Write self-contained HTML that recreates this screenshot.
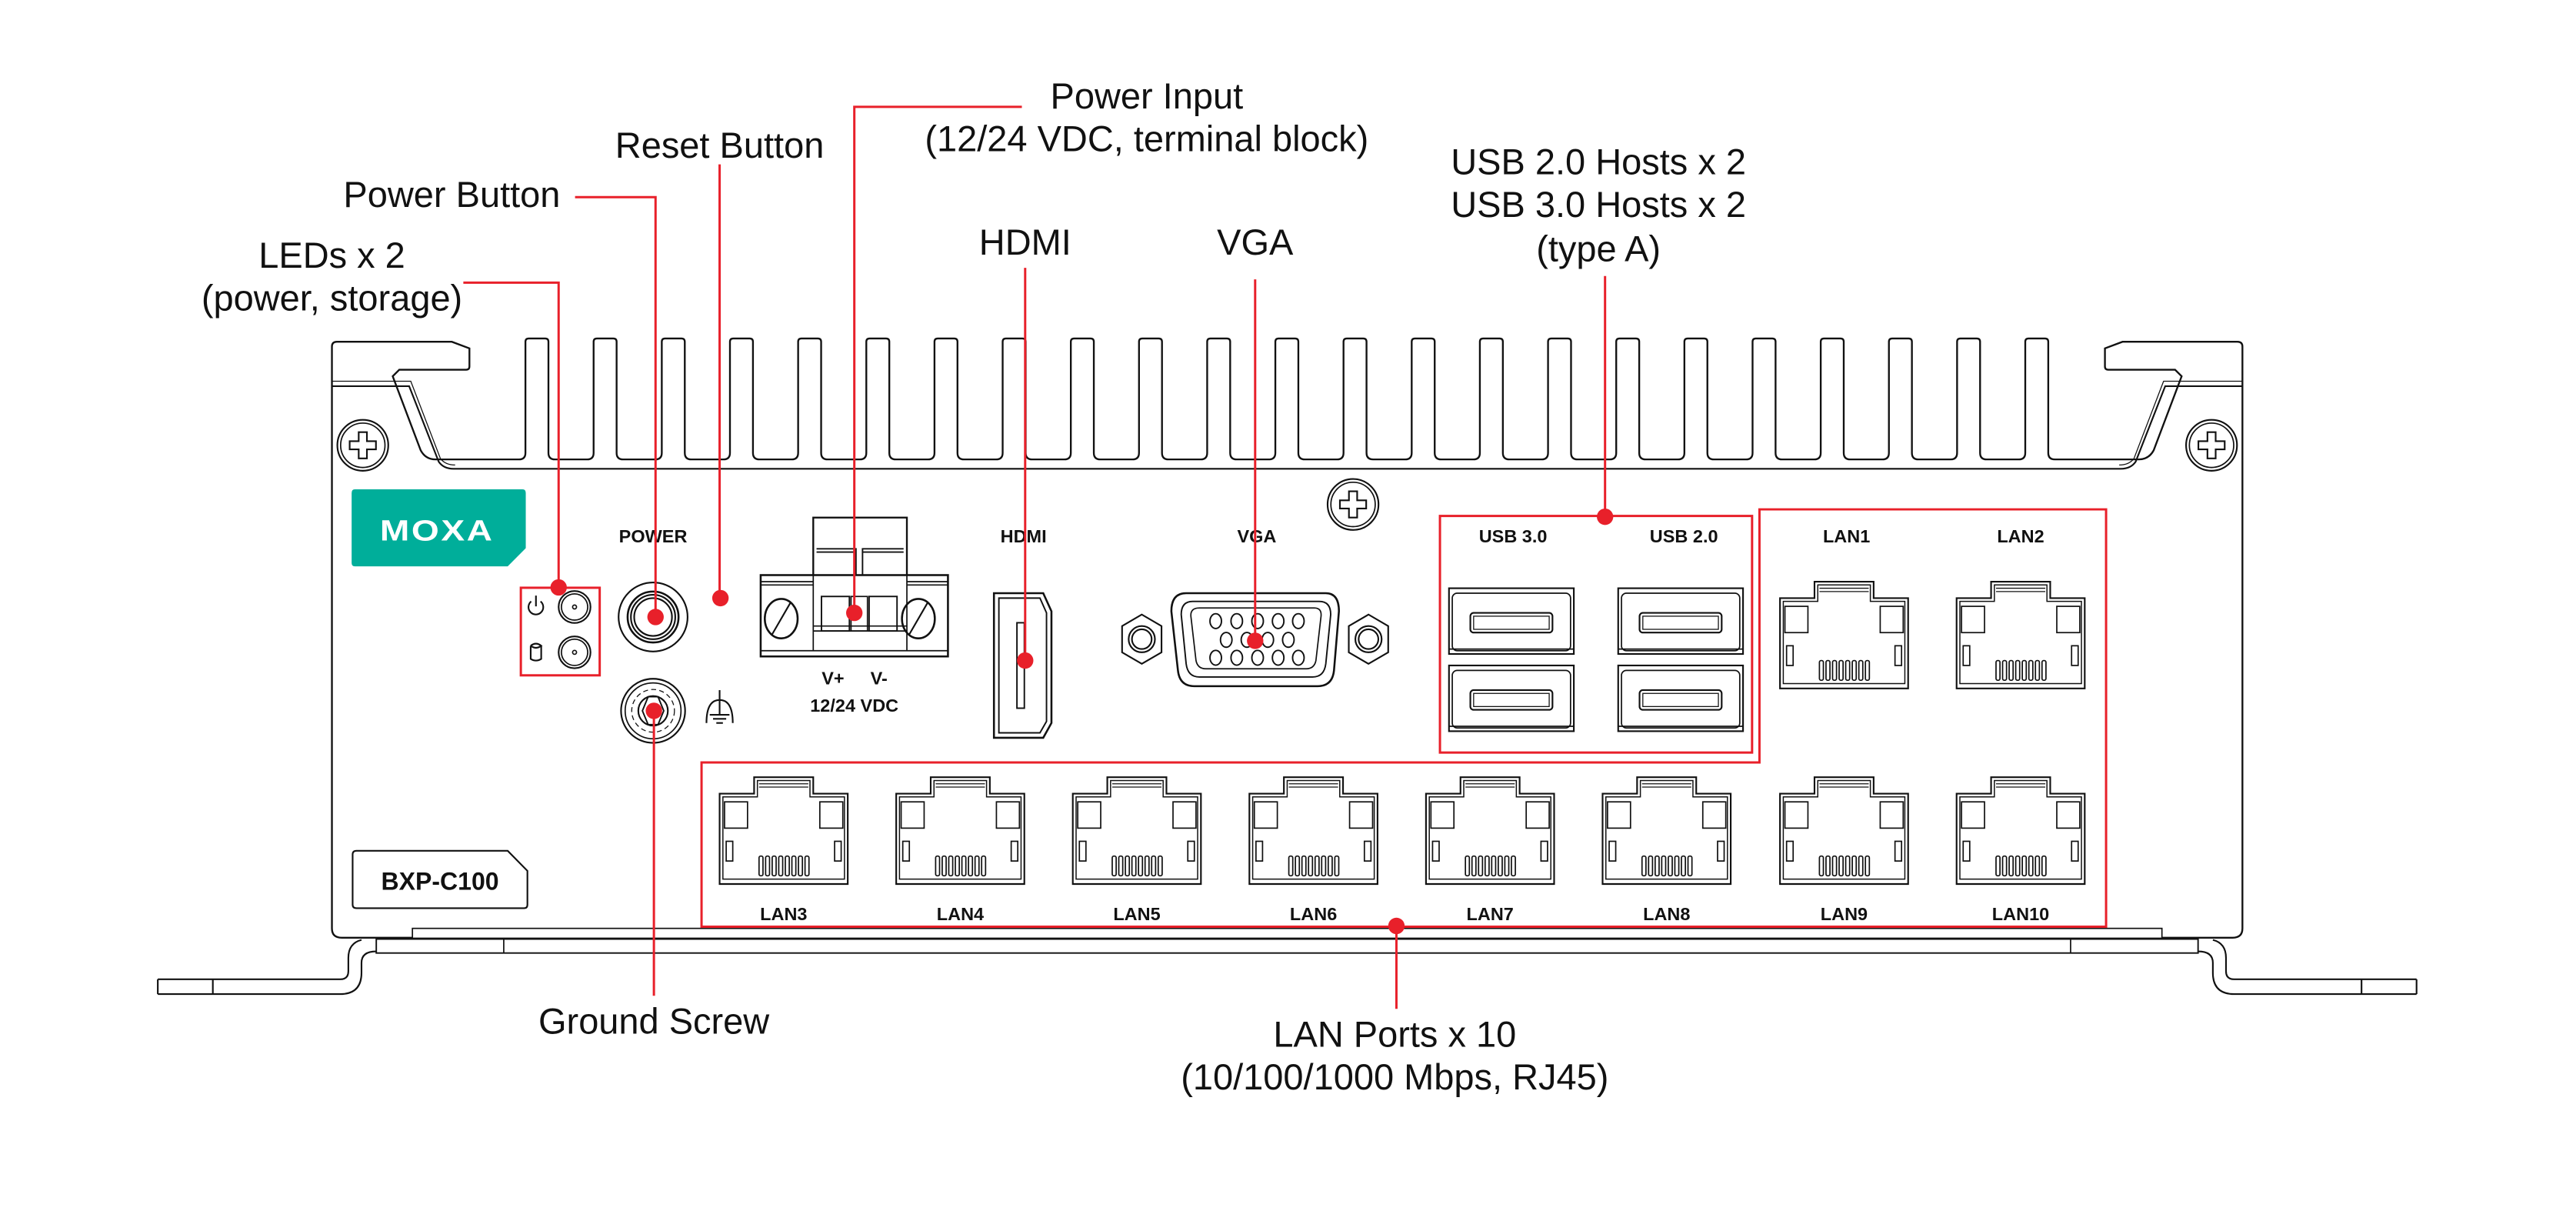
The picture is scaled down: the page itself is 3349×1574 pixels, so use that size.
<!DOCTYPE html>
<html><head><meta charset="utf-8"><style>
html,body{margin:0;padding:0;background:#fff;}
svg{display:block;}
text{font-family:"Liberation Sans",sans-serif;}
.c{font-size:22px;fill:#111;text-anchor:middle;}
.s{font-family:"Liberation Sans Narrow","Liberation Sans",sans-serif;font-weight:bold;font-size:11px;fill:#111;text-anchor:middle;}
</style></head><body>
<svg width="3349" height="1574" viewBox="0 0 1568 737" xmlns="http://www.w3.org/2000/svg">
<defs>
<g id="rj">
<path d="M0,10 H21 V0 H57 V10 H78 V65 H0 Z" fill="#fff" stroke="#111" stroke-width="1"/>
<path d="M2,12 H23 V2 H55 V12 H76 V62 H2 Z" fill="none" stroke="#111" stroke-width="0.7"/>
<path d="M24,4 H54 M24,6 H54" stroke="#111" stroke-width="0.6"/>
<rect x="3" y="15" width="14" height="16" fill="none" stroke="#111" stroke-width="0.8"/>
<rect x="61" y="15" width="14" height="16" fill="none" stroke="#111" stroke-width="0.8"/>
<rect x="4" y="39" width="4" height="12" fill="none" stroke="#111" stroke-width="0.8"/>
<rect x="70" y="39" width="4" height="12" fill="none" stroke="#111" stroke-width="0.8"/>
<g fill="none" stroke="#111" stroke-width="0.8">
<rect x="24" y="48" width="2.4" height="12" rx="1"/><rect x="28" y="48" width="2.4" height="12" rx="1"/>
<rect x="32" y="48" width="2.4" height="12" rx="1"/><rect x="36" y="48" width="2.4" height="12" rx="1"/>
<rect x="40" y="48" width="2.4" height="12" rx="1"/><rect x="44" y="48" width="2.4" height="12" rx="1"/>
<rect x="48" y="48" width="2.4" height="12" rx="1"/><rect x="52" y="48" width="2.4" height="12" rx="1"/>
</g>
</g>
<g id="usb">
<rect x="0" y="0" width="76" height="40" fill="#fff" stroke="#111" stroke-width="1"/>
<rect x="2" y="3" width="72" height="35" rx="3" fill="none" stroke="#111" stroke-width="0.8"/>
<rect x="13" y="15" width="50" height="12" rx="2" fill="none" stroke="#111" stroke-width="1"/>
<rect x="15" y="17" width="46" height="8" fill="none" stroke="#111" stroke-width="0.6"/>
<path d="M0,37 H76" stroke="#111" stroke-width="0.8"/>
</g>
<g id="scr">
<circle r="15.5" fill="#fff" stroke="#111" stroke-width="1"/>
<circle r="13.5" fill="none" stroke="#111" stroke-width="0.8"/>
<path d="M-2.5,-8 H2.5 V-2.5 H8 V2.5 H2.5 V8 H-2.5 V2.5 H-8 V-2.5 H-2.5 Z" fill="none" stroke="#111" stroke-width="1"/>
</g>
</defs>

<!-- chassis -->
<path d="M202,565 V211 Q202,208 205,208 H275 L285.7,212 V223 Q285.7,225 283.7,225 H243 L239,229 L256,274 Q259,279.6 265,279.6 H315.8
q4,0 4,-4 v-67.6 q0,-2 2,-2 h10 q2,0 2,2 v67.6 q0,4 4,4 h19.5
q4,0 4,-4 v-67.6 q0,-2 2,-2 h10 q2,0 2,2 v67.6 q0,4 4,4 h19.5
q4,0 4,-4 v-67.6 q0,-2 2,-2 h10 q2,0 2,2 v67.6 q0,4 4,4 h19.5
q4,0 4,-4 v-67.6 q0,-2 2,-2 h10 q2,0 2,2 v67.6 q0,4 4,4 h19.5
q4,0 4,-4 v-67.6 q0,-2 2,-2 h10 q2,0 2,2 v67.6 q0,4 4,4 h19.5
q4,0 4,-4 v-67.6 q0,-2 2,-2 h10 q2,0 2,2 v67.6 q0,4 4,4 h19.5
q4,0 4,-4 v-67.6 q0,-2 2,-2 h10 q2,0 2,2 v67.6 q0,4 4,4 h19.5
q4,0 4,-4 v-67.6 q0,-2 2,-2 h10 q2,0 2,2 v67.6 q0,4 4,4 h19.5
q4,0 4,-4 v-67.6 q0,-2 2,-2 h10 q2,0 2,2 v67.6 q0,4 4,4 h19.5
q4,0 4,-4 v-67.6 q0,-2 2,-2 h10 q2,0 2,2 v67.6 q0,4 4,4 h19.5
q4,0 4,-4 v-67.6 q0,-2 2,-2 h10 q2,0 2,2 v67.6 q0,4 4,4 h19.5
q4,0 4,-4 v-67.6 q0,-2 2,-2 h10 q2,0 2,2 v67.6 q0,4 4,4 h19.5
q4,0 4,-4 v-67.6 q0,-2 2,-2 h10 q2,0 2,2 v67.6 q0,4 4,4 h19.5
q4,0 4,-4 v-67.6 q0,-2 2,-2 h10 q2,0 2,2 v67.6 q0,4 4,4 h19.5
q4,0 4,-4 v-67.6 q0,-2 2,-2 h10 q2,0 2,2 v67.6 q0,4 4,4 h19.5
q4,0 4,-4 v-67.6 q0,-2 2,-2 h10 q2,0 2,2 v67.6 q0,4 4,4 h19.5
q4,0 4,-4 v-67.6 q0,-2 2,-2 h10 q2,0 2,2 v67.6 q0,4 4,4 h19.5
q4,0 4,-4 v-67.6 q0,-2 2,-2 h10 q2,0 2,2 v67.6 q0,4 4,4 h19.5
q4,0 4,-4 v-67.6 q0,-2 2,-2 h10 q2,0 2,2 v67.6 q0,4 4,4 h19.5
q4,0 4,-4 v-67.6 q0,-2 2,-2 h10 q2,0 2,2 v67.6 q0,4 4,4 h19.5
q4,0 4,-4 v-67.6 q0,-2 2,-2 h10 q2,0 2,2 v67.6 q0,4 4,4 h19.5
q4,0 4,-4 v-67.6 q0,-2 2,-2 h10 q2,0 2,2 v67.6 q0,4 4,4 h19.5
q4,0 4,-4 v-67.6 q0,-2 2,-2 h10 q2,0 2,2 v67.6 q0,4 4,4 h19.5
H1302 Q1308,279.6 1311,274 L1328,229 L1324,225 H1283.3 Q1281.3,225 1281.3,223 V212 L1292,208 H1362 Q1365,208 1365,211 V565 Q1365,570.7 1359,570.7 H208 Q202,570.7 202,565 Z" fill="#fff" stroke="#111" stroke-width="1.1"/>
<path d="M202,235 H249 L267,281 Q270,285.3 276,285.3 H1291 Q1297,285.3 1300,281 L1318,235 H1365" fill="none" stroke="#111" stroke-width="1"/>
<path d="M202,232 H250 L268,279 Q271,283 277,283" fill="none" stroke="#111" stroke-width="0.6"/>
<path d="M1290,283 Q1296,283 1299,279 L1317,232 H1365" fill="none" stroke="#111" stroke-width="0.6"/>

<!-- base / feet -->
<rect x="251" y="565" width="1065" height="6" fill="#fff" stroke="#111" stroke-width="0.8"/>
<rect x="229" y="571.5" width="1109" height="8.5" fill="#fff" stroke="#111" stroke-width="0.9"/>
<path d="M306.6,571.5 V580 M1260.4,571.5 V580" stroke="#111" stroke-width="0.8"/>
<path d="M96,596 H207 Q212,596 212,591 V583 Q212,574 220,572 M96,605 H207 Q220,605 220,592 V586 Q220,579 229,579 M96,596 V605 M129.5,596 V605" fill="none" stroke="#111" stroke-width="1"/>
<path d="M1471,596 H1360 Q1355,596 1355,591 V583 Q1355,574 1347,572 M1471,605 H1360 Q1347,605 1347,592 V586 Q1347,579 1338,579 M1471,596 V605 M1437.5,596 V605" fill="none" stroke="#111" stroke-width="1"/>

<!-- screws -->
<use href="#scr" x="220.8" y="271"/>
<use href="#scr" x="1346.2" y="271"/>
<use href="#scr" x="823.6" y="307"/>

<!-- MOXA logo -->
<path d="M214,300 Q214,297.8 216,297.8 H318 Q320,297.8 320,300 V333.6 L309,344.7 H216 Q214,344.7 214,342.7 Z" fill="#00ae9a"/>
<text x="266" y="329" font-size="18" font-weight="bold" fill="#fff" text-anchor="middle" font-family="Liberation Sans" letter-spacing="1" transform="translate(266,0) scale(1.2,1) translate(-266,0)">MOXA</text>

<!-- BXP box -->
<path d="M214.6,520 Q214.6,517.8 217,517.8 H309 L321,530 V550.5 Q321,552.7 319,552.7 H217 Q214.6,552.7 214.6,550.5 Z" fill="#fff" stroke="#111" stroke-width="1"/>
<text x="267.8" y="541.5" font-size="15" font-weight="bold" fill="#111" text-anchor="middle">BXP-C100</text>

<!-- LEDs -->
<g fill="none" stroke="#111">
<circle cx="349.7" cy="369.4" r="9.7" stroke-width="1"/><circle cx="349.7" cy="369.4" r="8" stroke-width="0.8"/><circle cx="349.7" cy="369.4" r="1.2" stroke-width="0.8"/>
<circle cx="349.7" cy="397" r="9.7" stroke-width="1"/><circle cx="349.7" cy="397" r="8" stroke-width="0.8"/><circle cx="349.7" cy="397" r="1.2" stroke-width="0.8"/>
<path d="M323.3,366 A4.5,4.5 0 1 0 329,366 M326.2,362.5 V369" stroke-width="1"/>
<path d="M323,393 V401 Q326.2,403 329.4,401 V393 M323,393 Q326.2,390.5 329.4,393 Q326.2,395.5 323,393" stroke-width="1"/>
</g>

<!-- power button -->
<g fill="none" stroke="#111">
<circle cx="397.5" cy="375.5" r="21" stroke-width="1"/>
<circle cx="397.5" cy="375.5" r="15.5" stroke-width="1.2"/>
<circle cx="397.5" cy="375.5" r="13.5" stroke-width="1"/>
<circle cx="397.5" cy="375.5" r="11.5" stroke-width="1"/>
</g>
<text class="s" x="397.5" y="330">POWER</text>

<!-- ground screw -->
<g fill="none" stroke="#111">
<circle cx="397.5" cy="432.6" r="19.5" stroke-width="1"/>
<circle cx="397.5" cy="432.6" r="17" stroke-width="0.8"/>
<circle cx="397.5" cy="432.6" r="13" stroke-width="0.6" stroke-dasharray="3,2"/>
<circle cx="397.5" cy="432.6" r="9" stroke-width="1"/>
<path d="M394.5,424 L400.5,424 L404,432.6 L400.5,441 L394.5,441 L391,432.6 Z" stroke-width="0.9"/>
<path d="M430,440 Q430,426 438,426 Q446,426 446,440 M438,420 V435 M432,435 H444 M434,437.5 H442 M436,440 H440" stroke-width="1"/>
</g>

<!-- terminal block -->
<g fill="none" stroke="#111">
<rect x="495" y="315" width="57" height="50" fill="#fff" stroke-width="1.1"/>
<path d="M497,334 H521 V352 M525,352 V334 H550 M497,336 H521 M525,336 H550" stroke-width="0.9"/>
<rect x="463" y="350" width="114" height="49.5" fill="#fff" stroke-width="1.2"/>
<path d="M463,354 H495 M552,354 H577 M463,356 H495 M552,356 H577 M463,396 H577 M495,350 V396 M552,350 V396 M495,381 H552 M495,384 H552" stroke-width="0.8"/>
<ellipse cx="475.5" cy="376.5" rx="10" ry="12" stroke-width="1.2"/>
<ellipse cx="559" cy="376.5" rx="10" ry="12" stroke-width="1.2"/>
<path d="M470,386 L481,367 M553.5,386 L564.5,367" stroke-width="1"/>
<rect x="500" y="363" width="17" height="21" stroke-width="0.9"/>
<rect x="529" y="363" width="17" height="21" stroke-width="0.9"/>
<rect x="518" y="363" width="10" height="21" stroke-width="0.8"/>
</g>
<text class="s" x="507" y="416.5">V+</text>
<text class="s" x="535" y="416.5">V-</text>
<text class="s" x="520" y="433">12/24 VDC</text>

<!-- HDMI -->
<text class="s" x="623" y="330">HDMI</text>
<g fill="none" stroke="#111">
<path d="M605,361 H635 L640,372 V440 L635,449 H605 Z" fill="#fff" stroke-width="1.2"/>
<path d="M608,364 H633 L637,373 V439 L633,446 H608 Z" stroke-width="0.9"/>
<rect x="619" y="379" width="4.5" height="52" stroke-width="0.9"/>
</g>

<!-- VGA -->
<text class="s" x="765" y="330">VGA</text>
<g fill="none" stroke="#111">
<path d="M722,361 H807 Q815,361 815,372 L812,408 Q811,417.6 802,417.6 H727 Q718,417.6 717,408 L713,372 Q713,361 722,361 Z" fill="#fff" stroke-width="1.2"/>
<path d="M726,366 H803 Q810,366 810,374 L807,404 Q806,412 799,412 H730 Q723,412 722,404 L719,374 Q719,366 726,366 Z" stroke-width="0.9"/>
<path d="M730,370 H800 Q805,370 804,376 L801,402 Q800,407 795,407 H734 Q729,407 728,402 L725,376 Q724,370 730,370 Z" stroke-width="0.8"/>
<g stroke-width="0.9">
<ellipse cx="740" cy="378" rx="3.5" ry="4.5"/><ellipse cx="752.8" cy="378" rx="3.5" ry="4.5"/><ellipse cx="765.5" cy="378" rx="3.5" ry="4.5"/><ellipse cx="778" cy="378" rx="3.5" ry="4.5"/><ellipse cx="790.3" cy="378" rx="3.5" ry="4.5"/>
<ellipse cx="746.4" cy="389.4" rx="3.5" ry="4.5"/><ellipse cx="759" cy="389.4" rx="3.5" ry="4.5"/><ellipse cx="771.7" cy="389.4" rx="3.5" ry="4.5"/><ellipse cx="784.2" cy="389.4" rx="3.5" ry="4.5"/>
<ellipse cx="740" cy="400.3" rx="3.5" ry="4.5"/><ellipse cx="752.8" cy="400.3" rx="3.5" ry="4.5"/><ellipse cx="765.5" cy="400.3" rx="3.5" ry="4.5"/><ellipse cx="778" cy="400.3" rx="3.5" ry="4.5"/><ellipse cx="790.3" cy="400.3" rx="3.5" ry="4.5"/>
</g>
<path d="M695,374 L707,381 V397 L695,404 L683,397 V381 Z" stroke-width="1"/>
<circle cx="695" cy="389" r="8" stroke-width="1"/><circle cx="695" cy="389" r="6" stroke-width="1"/>
<path d="M833,374 L845,381 V397 L833,404 L821,397 V381 Z" stroke-width="1"/>
<circle cx="833" cy="389" r="8" stroke-width="1"/><circle cx="833" cy="389" r="6" stroke-width="1"/>
</g>

<!-- USB -->
<text class="s" x="921" y="330">USB 3.0</text>
<text class="s" x="1025" y="330">USB 2.0</text>
<use href="#usb" x="882" y="358"/>
<use href="#usb" x="882" y="405"/>
<use href="#usb" x="985" y="358"/>
<use href="#usb" x="985" y="405"/>

<!-- LAN -->
<text class="s" x="1124" y="330">LAN1</text>
<text class="s" x="1230" y="330">LAN2</text>
<use href="#rj" x="1083.5" y="354"/>
<use href="#rj" x="1191" y="354"/>
<use href="#rj" x="438" y="473"/>
<use href="#rj" x="545.5" y="473"/>
<use href="#rj" x="653" y="473"/>
<use href="#rj" x="760.5" y="473"/>
<use href="#rj" x="868" y="473"/>
<use href="#rj" x="975.5" y="473"/>
<use href="#rj" x="1083.5" y="473"/>
<use href="#rj" x="1191" y="473"/>
<text class="s" x="477" y="560">LAN3</text>
<text class="s" x="584.5" y="560">LAN4</text>
<text class="s" x="692" y="560">LAN5</text>
<text class="s" x="799.5" y="560">LAN6</text>
<text class="s" x="907" y="560">LAN7</text>
<text class="s" x="1014.5" y="560">LAN8</text>
<text class="s" x="1122.5" y="560">LAN9</text>
<text class="s" x="1230" y="560">LAN10</text>

<!-- red callouts -->
<g fill="none" stroke="#e8202a" stroke-width="1.4">
<rect x="317" y="357.7" width="48" height="53.3"/>
<rect x="876.5" y="314" width="190" height="144"/>
<path d="M1071,464 V310 H1282 V564 H427 V464 Z"/>
<path d="M282,172 H340 V357"/>
<path d="M350,120 H399 V375"/>
<path d="M438,100 V364"/>
<path d="M622,65 H520 V373"/>
<path d="M624,163 V402"/>
<path d="M764,170 V390"/>
<path d="M977,168 V314"/>
<path d="M398,432 V606"/>
<path d="M850,563 V614"/>
</g>
<g fill="#e8202a">
<circle cx="340" cy="357.5" r="5"/>
<circle cx="399" cy="375.5" r="5"/>
<circle cx="438.5" cy="364" r="5"/>
<circle cx="520" cy="373" r="5"/>
<circle cx="624" cy="402" r="5"/>
<circle cx="764" cy="390" r="5"/>
<circle cx="977" cy="314.5" r="5"/>
<circle cx="398" cy="432.6" r="5"/>
<circle cx="850" cy="563.5" r="5"/>
</g>

<!-- callout text -->
<text class="c" x="698" y="66">Power Input</text>
<text class="c" x="698" y="92">(12/24 VDC, terminal block)</text>
<text class="c" x="438" y="96">Reset Button</text>
<text class="c" x="275" y="126">Power Button</text>
<text class="c" x="202" y="163">LEDs x 2</text>
<text class="c" x="202" y="189">(power, storage)</text>
<text class="c" x="624" y="155">HDMI</text>
<text class="c" x="764" y="155">VGA</text>
<text class="c" x="973" y="106">USB 2.0 Hosts x 2</text>
<text class="c" x="973" y="132">USB 3.0 Hosts x 2</text>
<text class="c" x="973" y="159">(type A)</text>
<text class="c" x="398" y="629">Ground Screw</text>
<text class="c" x="849" y="637">LAN Ports x 10</text>
<text class="c" x="849" y="663">(10/100/1000 Mbps, RJ45)</text>
</svg>
</body></html>
